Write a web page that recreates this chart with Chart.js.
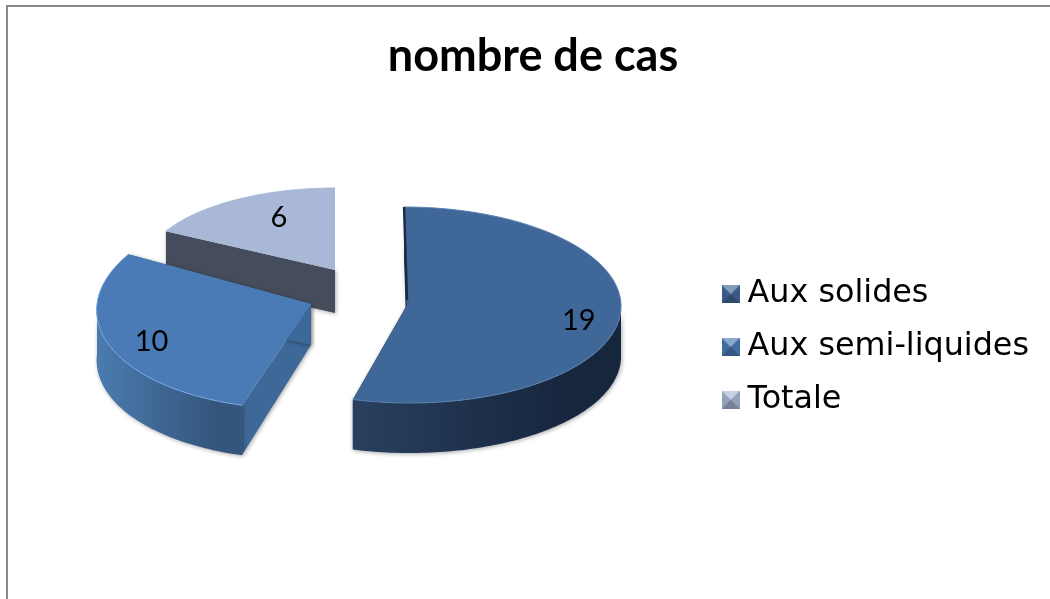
<!DOCTYPE html>
<html>
<head>
<meta charset="utf-8">
<title>nombre de cas</title>
<script src="https://cdn.jsdelivr.net/npm/chart.js@4"></script>
<style>
    html, body { margin: 0; background: #fff; overflow: hidden; }
    #wrap { position: absolute; left: 0; top: 0; width: 1050px; height: 599px; }
    #frame { position: absolute; left: 6px; top: 5px; right: 0; bottom: 0; border-left: 2.5px solid #888; border-top: 2.5px solid #888; }
</style>
</head>
<body>
<div id="frame"></div>
<div id="wrap"><canvas id="pie"></canvas></div>
<script>
// Data
const titleText = 'nombre de cas';
const categories = ['Aux solides', 'Aux semi-liquides', 'Totale'];
const values = [19, 10, 6];
const topColors = ['#3f6899', '#4b7bb6', '#a8b8d6'];

// How each slice is projected (3D look, Chart.js only gives the angles)
const projection = [
    { cx: 407, cy: 305, rx: 214, ry: 98, skew: 0.03, depth: 50, apexDepth: 50, wall: ['#28405f', '#16263d'], face: '#1a2c47', rim: '#5a80b0', edgeLine: 2.5, lx: 0.81, ly: 1.2 },
    { cx: 311, cy: 304, rx: 214, ry: 105, skew: -0.12, depth: 50, apexDepth: 41, wall: ['#4c7bb0', '#34567d'], face: '#3e6897', rim: '#78a6e0', edgeLine: 0, lx: 0.81, ly: 0.9 },
    { cx: 335, cy: 270, rx: 192, ry: 82, skew: 0, depth: 43, apexDepth: 43, wall: ['#454d5d', '#454d5d'], face: '#454d5d', rim: '#a8b8d6', edgeLine: 0, lx: 0.57, ly: 0.74 }
];
const drawOrder = [2, 1, 0];

function pointAt(p, angle, drop) {
    const s = Math.sin(angle);
    return [p.cx + p.rx * Math.cos(angle) + p.skew * p.ry * s, p.cy + p.ry * s + drop];
}

function fillPoly(ctx, pts, style) {
    ctx.beginPath();
    pts.forEach((pt, i) => i ? ctx.lineTo(pt[0], pt[1]) : ctx.moveTo(pt[0], pt[1]));
    ctx.closePath();
    ctx.fillStyle = style;
    ctx.fill();
}

function arcPoints(p, start, end, drop) {
    const pts = [];
    for (let i = 0; i <= 90; i++) {
        pts.push(pointAt(p, start + (end - start) * i / 90, drop));
    }
    return pts;
}

function drawSlice(ctx, arc, p, color) {
    const a0 = arc.startAngle, a1 = arc.endAngle;
    const top = arcPoints(p, a0, a1, 0);
    const low = arcPoints(p, a0, a1, p.depth);
    const apex = [p.cx, p.cy];
    const apexLow = [p.cx, p.cy + p.apexDepth];

    // cut faces, then the part of the outer wall that faces the viewer
    const xs = top.map(pt => pt[0]);
    const grad = ctx.createLinearGradient(Math.min(...xs), 0, Math.max(...xs), 0);
    grad.addColorStop(0, p.wall[0]);
    grad.addColorStop(0.8, p.wall[1]);
    grad.addColorStop(1, p.wall[1]);
    ctx.save();
    ctx.shadowColor = 'rgba(0,0,0,0.35)';
    ctx.shadowBlur = 4;
    ctx.shadowOffsetX = 1;
    ctx.shadowOffsetY = 1;
    fillPoly(ctx, [apex, top[0], low[0], apexLow], p.face);
    fillPoly(ctx, [apex, top[90], low[90], apexLow], p.face);
    const lo = Math.max(a0, 0), hi = Math.min(a1, Math.PI);
    if (hi > lo) {
        const wallTop = arcPoints(p, lo, hi, 0);
        const wallLow = arcPoints(p, lo, hi, p.depth);
        fillPoly(ctx, wallTop.concat(wallLow.reverse()), grad);
    }
    ctx.restore();

    // top surface
    fillPoly(ctx, [apex].concat(top), color);

    // lit rim on the near edge
    ctx.beginPath();
    top.forEach((pt, i) => i ? ctx.lineTo(pt[0], pt[1]) : ctx.moveTo(pt[0], pt[1]));
    ctx.strokeStyle = p.rim;
    ctx.lineWidth = 1;
    ctx.stroke();

    // thin dark sliver of the far cut face
    if (p.edgeLine) {
        ctx.beginPath();
        ctx.moveTo(top[0][0], top[0][1]);
        ctx.lineTo(apex[0], apex[1] - 5);
        ctx.strokeStyle = p.face;
        ctx.lineWidth = p.edgeLine;
        ctx.stroke();
    }
}

const pie3d = {
    id: 'pie3d',
    beforeDatasetsDraw(chart) {
        const ctx = chart.ctx;
        const arcs = chart.getDatasetMeta(0).data;
        drawOrder.forEach(i => drawSlice(ctx, arcs[i], projection[i], topColors[i]));

        // value labels
        ctx.save();
        ctx.font = '29px Lato';
        ctx.fillStyle = '#000';
        ctx.textAlign = 'center';
        ctx.textBaseline = 'middle';
        arcs.forEach((arc, i) => {
            const p = projection[i];
            const mid = (arc.startAngle + arc.endAngle) / 2;
            ctx.fillText(values[i], p.cx + p.rx * p.lx * Math.cos(mid), p.cy + p.ry * p.ly * Math.sin(mid));
        });
        ctx.restore();
        return false;
    }
};

// Beveled legend marker
function makeSwatch(color) {
    const c = document.createElement('canvas');
    c.width = 18;
    c.height = 18;
    const g = c.getContext('2d');
    g.fillStyle = color;
    g.fillRect(0, 0, 18, 18);
    g.fillStyle = 'rgba(255,255,255,0.35)';
    g.beginPath(); g.moveTo(0, 0); g.lineTo(18, 0); g.lineTo(9, 9); g.fill();
    g.fillStyle = 'rgba(0,0,0,0.3)';
    g.beginPath(); g.moveTo(0, 18); g.lineTo(18, 18); g.lineTo(9, 9); g.fill();
    g.fillStyle = 'rgba(0,0,0,0.12)';
    g.beginPath(); g.moveTo(0, 0); g.lineTo(0, 18); g.lineTo(9, 9); g.fill();
    g.beginPath(); g.moveTo(18, 0); g.lineTo(18, 18); g.lineTo(9, 9); g.fill();
    return c;
}

new Chart(document.getElementById('pie'), {
    type: 'pie',
    data: {
        labels: categories,
        datasets: [{ data: values, backgroundColor: topColors, borderWidth: 0 }]
    },
    plugins: [pie3d],
    options: {
        responsive: true,
        maintainAspectRatio: false,
        animation: false,
        layout: { padding: { left: 27, right: 11, top: 0, bottom: 0 } },
        plugins: {
            tooltip: { enabled: false },
            title: {
                display: true,
                text: titleText,
                color: '#000',
                font: { family: 'Lato', size: 45, weight: 'bold' },
                padding: { top: 29, bottom: 12 }
            },
            legend: {
                position: 'right',
                fullSize: false,
                labels: {
                    color: '#000',
                    font: { family: 'DejaVu Sans', size: 31.8 },
                    usePointStyle: true,
                    pointStyleWidth: 2,
                    padding: 21,
                    generateLabels: chart => categories.map((name, i) => ({
                        text: name,
                        pointStyle: makeSwatch(topColors[i]),
                        fillStyle: topColors[i],
                        lineWidth: 0,
                        index: i
                    }))
                }
            }
        }
    }
});
</script>
</body>
</html>
